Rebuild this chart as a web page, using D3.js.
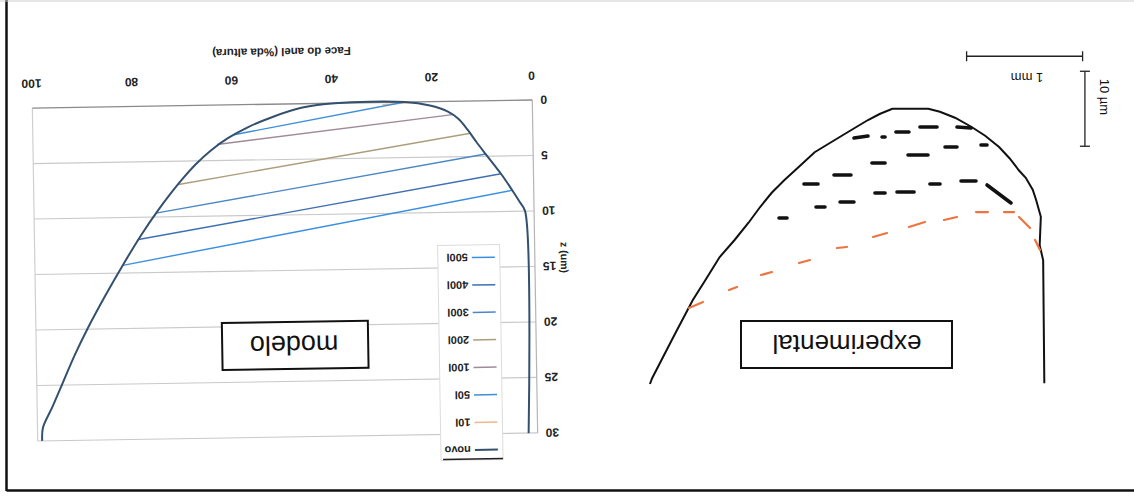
<!DOCTYPE html>
<meta charset="utf-8">
<script src="https://d3js.org/d3.v7.min.js"></script>
<style>
  body { margin: 0; background: #fff; }
  text { font-family: "Liberation Sans", Arial, sans-serif; }
</style>
<body>
<svg id="fig" width="1134" height="497"></svg>
<script>

// ---- modelo chart data (face of the ring in % of height, z in um) ----
var faceTicks = [0, 20, 40, 60, 80, 100];
var zTicks = [0, 5, 10, 15, 20, 25, 30];
var seriesNames = ["novo", "10l", "50l", "100l", "200l", "300l", "400l", "500l"];
var seriesColors = ["#34506f", "#f2b88c", "#3f8fd8", "#a08a9a", "#ad9d7c", "#4b87c6", "#3f6fb3", "#3a8fe0"];

var novo = [[1.8,30],[1.8,10],[2.8,9.2],[4.3,8.1],[6.5,6.6],[8,5.7],[9.5,4.8],[11.3,3.7],[13,2.6],
  [14.8,1.6],[17,0.9],[20.5,0.35],[25.5,0],[39.5,0],[46,0.35],[52,1.15],[57,2.05],[61,3.0],[64.5,4.1],
  [67.5,5.3],[70.2,6.6],[72.8,8.0],[75.2,9.4],[78.5,11.5],[82.3,14.2],[86,17.0],[89.6,19.9],[92.3,22.3],
  [94.8,24.8],[97,27],[98.9,28.8],[99.1,30]];
var wear10 = [[24,0.05],[30,0.2]];
var wear50 = [[25.5,0],[59.8,2.7]];
var wear100 = [[16,1.2],[63.2,3.55]];
var wear200 = [[12.5,2.9],[71,7.1]];
var wear300 = [[9.5,4.8],[75.6,9.65]];
var wear400 = [[6.5,6.6],[79.2,12.0]];
var wear500 = [[4.3,8.1],[82.4,14.3]];

// ---- experimental profile data (u in mm, w in um below the top) ----
var expProfile = [[-0.02,36.7],[-0.01,20.3],[0.02,18.3],[0.01,14.5],[0.05,12.3],[0.08,10.9],[0.14,9.3],
  [0.2,8.3],[0.28,6.7],[0.37,5.2],[0.49,3.7],[0.61,2.5],[0.75,1.3],[0.88,0.5],[0.98,0.1],[1.29,0.1],
  [1.4,0.8],[1.5,1.6],[1.64,2.9],[1.79,4.3],[1.96,5.9],[2.1,7.9],[2.22,9.6],[2.33,11.3],[2.43,13.2],
  [2.53,15.3],[2.65,17.6],[2.78,19.9],[2.9,22.9],[3.01,25.6],[3.16,30],[3.28,33.6],[3.36,36],[3.38,36.8]];
var expRowA = [[0.733,2.53,0.612,2.67],[1.052,2.53,0.905,2.53],[1.259,3.2,1.147,3.2],[1.379,3.87,1.353,3.87],
  [1.621,4.0,1.5,3.73]];
var expRowB = [[0.526,4.93,0.474,4.93],[0.836,5.2,0.733,5.2],[1.155,6.27,0.983,6.27],[1.466,7.33,1.353,7.33],
  [1.793,8.93,1.647,8.93],[2.052,10.13,1.931,10.13]];
var expRowC = [[0.474,10.27,0.267,12.67],[0.698,9.73,0.569,9.73],[0.966,10.13,0.879,10.13],[1.25,11.2,1.103,11.2],
  [1.44,11.33,1.353,11.33],[1.741,12.53,1.621,12.53],[1.948,13.2,1.871,13.2],[2.267,14.67,2.198,14.67]];
var expOrange = [[0.06,17.6,0.017,18.93],[0.198,14.53,0.103,16.0],[0.328,13.87,0.241,13.87],[0.569,13.87,0.466,13.87],
  [0.845,14.93,0.733,14.53],[1.147,15.87,1.009,15.2],[1.457,17.2,1.336,16.67],[1.767,18.67,1.681,18.53],
  [2.095,20.67,2.0,20.27],[2.422,22.27,2.328,21.87],[2.698,24.27,2.629,23.87],[3.043,26.67,2.922,25.87]];
var barMm = [[-0.35,-6.9],[0.65,-6.9]];
var barUm = [[-0.37,-4.9],[-0.37,5.1]];

var svg = d3.select("#fig");

// the scanned page is upside down
var page = svg.append("g").attr("transform", "rotate(180 567 248.5)");

// page frame
page.append("line").attr("x1", 1127.5).attr("x2", 1127.5).attr("y1", 6).attr("y2", 497)
  .attr("stroke", "#111").attr("stroke-width", 2.5);
page.append("line").attr("x1", 0).attr("x2", 1127.5).attr("y1", 6.5).attr("y2", 6.5)
  .attr("stroke", "#111").attr("stroke-width", 2.5);
page.append("line").attr("x1", 0).attr("x2", 1134).attr("y1", 496).attr("y2", 496)
  .attr("stroke", "#ccc").attr("stroke-width", 1);

// ================= modelo =================
var m = page.append("g").attr("transform", "rotate(-0.92 849 226.5)");
var x = d3.scaleLinear().domain([0, 100]).range([599, 1099]);
var z = d3.scaleLinear().domain([0, 30]).range([393, 60]);

m.selectAll(".grid").data(zTicks.slice(1)).enter().append("line")
  .attr("x1", x(0)).attr("x2", x(100))
  .attr("y1", d => z(d)).attr("y2", d => z(d))
  .attr("stroke", "#c9c9c9").attr("stroke-width", 1.2);
m.append("line").attr("x1", x(0)).attr("x2", x(0)).attr("y1", z(0)).attr("y2", z(30))
  .attr("stroke", "#b5b5b5").attr("stroke-width", 1.2);
m.append("line").attr("x1", x(100)).attr("x2", x(100)).attr("y1", z(0)).attr("y2", z(30))
  .attr("stroke", "#cfcfcf").attr("stroke-width", 1.2);
m.append("line").attr("x1", x(0)).attr("x2", x(100)).attr("y1", z(0)).attr("y2", z(0))
  .attr("stroke", "#8a8a8a").attr("stroke-width", 1.3);

var xAxis = m.append("g").attr("transform", "translate(0," + z(0) + ")")
  .call(d3.axisBottom(x).tickValues(faceTicks).tickSize(0).tickPadding(20));
var zAxis = m.append("g").attr("transform", "translate(" + x(0) + ",0)")
  .call(d3.axisLeft(z).tickValues(zTicks).tickSize(0).tickPadding(8));
[xAxis, zAxis].forEach(function(a) {
  a.select(".domain").remove();
  a.selectAll("text").attr("font-size", 12).attr("font-weight", "bold").attr("fill", "#222")
    .attr("font-family", '"Liberation Sans", Arial, sans-serif');
});

m.append("text").attr("x", 849).attr("y", 449).attr("text-anchor", "middle")
  .attr("font-size", 11.5).attr("font-weight", "bold").attr("fill", "#222")
  .text("Face do anel (%da altura)");
m.append("text").attr("transform", "translate(573,235) rotate(-90)").attr("text-anchor", "middle")
  .attr("font-size", 10.5).attr("font-weight", "bold").attr("fill", "#222")
  .text("z (um)");

var line = d3.line().x(d => x(d[0])).y(d => z(d[1]));
var wearSeries = [wear10, wear50, wear100, wear200, wear300, wear400, wear500];
wearSeries.forEach(function(s, i) {
  m.append("path").datum(s).attr("d", line).attr("fill", "none")
    .attr("stroke", seriesColors[i + 1]).attr("stroke-width", 1.4);
});
var smooth = d3.line().x(d => x(d[0])).y(d => z(d[1])).curve(d3.curveCatmullRom.alpha(0.5));
m.append("path").datum(novo).attr("d", smooth).attr("fill", "none")
  .attr("stroke", seriesColors[0]).attr("stroke-width", 2);

// legend
var leg = m.append("g");
leg.append("rect").attr("x", 634).attr("y", 34).attr("width", 62).attr("height", 215)
  .attr("fill", "#fff").attr("stroke", "#dcdcdc");
leg.append("line").attr("x1", 634).attr("x2", 694).attr("y1", 35).attr("y2", 35)
  .attr("stroke", "#222").attr("stroke-width", 1.5);
var legY = d3.scalePoint().domain(seriesNames).range([44, 236.5]);
seriesNames.forEach(function(n, i) {
  leg.append("line").attr("x1", 639).attr("x2", 662).attr("y1", legY(n)).attr("y2", legY(n))
    .attr("stroke", seriesColors[i]).attr("stroke-width", i === 0 ? 2 : 1.5);
  leg.append("text").attr("x", 666).attr("y", legY(n) + 4).attr("font-size", 11)
    .attr("font-weight", "bold").attr("fill", "#222").text(n);
});

m.append("rect").attr("x", 767).attr("y", 128).attr("width", 146).attr("height", 47)
  .attr("fill", "#fff").attr("stroke", "#111").attr("stroke-width", 2);
m.append("text").attr("x", 841).attr("y", 161).attr("text-anchor", "middle")
  .attr("font-size", 27).attr("fill", "#111").text("modelo");

// ================= experimental =================
var e = page.append("g");
var u = d3.scaleLinear().domain([0, 1]).range([92, 208]);
var w = d3.scaleLinear().domain([0, 10]).range([389, 314]);

e.append("path").datum(expProfile)
  .attr("d", d3.line().x(d => u(d[0])).y(d => w(d[1])))
  .attr("fill", "none").attr("stroke", "#111").attr("stroke-width", 2);

function dashes(rows, color, width) {
  e.append("g").selectAll("line").data(rows).enter().append("line")
    .attr("x1", d => u(d[0])).attr("y1", d => w(d[1]))
    .attr("x2", d => u(d[2])).attr("y2", d => w(d[3]))
    .attr("stroke", color).attr("stroke-width", width).attr("stroke-linecap", "round");
}
dashes(expRowA, "#111", 3.6);
dashes(expRowB, "#111", 3.6);
dashes(expRowC, "#111", 3.6);
dashes(expOrange, "#ec7440", 2.2);

// scale bars
e.append("line").attr("x1", u(barMm[0][0])).attr("x2", u(barMm[1][0]))
  .attr("y1", w(barMm[0][1])).attr("y2", w(barMm[1][1])).attr("stroke", "#222").attr("stroke-width", 1.3);
barMm.forEach(function(p) {
  e.append("line").attr("x1", u(p[0])).attr("x2", u(p[0])).attr("y1", w(p[1]) - 5).attr("y2", w(p[1]) + 5)
    .attr("stroke", "#222").attr("stroke-width", 1.3);
});
e.append("line").attr("x1", u(barUm[0][0])).attr("x2", u(barUm[1][0]))
  .attr("y1", w(barUm[0][1])).attr("y2", w(barUm[1][1])).attr("stroke", "#222").attr("stroke-width", 1.3);
barUm.forEach(function(p) {
  e.append("line").attr("x1", u(p[0]) - 5).attr("x2", u(p[0]) + 5).attr("y1", w(p[1])).attr("y2", w(p[1]))
    .attr("stroke", "#222").attr("stroke-width", 1.3);
});
e.append("text").attr("x", 107).attr("y", 424).attr("text-anchor", "middle")
  .attr("font-size", 13).attr("fill", "#111").text("1 mm");
e.append("text").attr("transform", "translate(34,400) rotate(-90)").attr("text-anchor", "middle")
  .attr("font-size", 13).attr("fill", "#111").text("10 µm");

e.append("rect").attr("x", 182).attr("y", 129).attr("width", 211).attr("height", 47)
  .attr("fill", "#fff").attr("stroke", "#111").attr("stroke-width", 2);
e.append("text").attr("x", 287).attr("y", 162).attr("text-anchor", "middle")
  .attr("font-size", 26).attr("fill", "#111").text("experimental");

</script>
</body>
